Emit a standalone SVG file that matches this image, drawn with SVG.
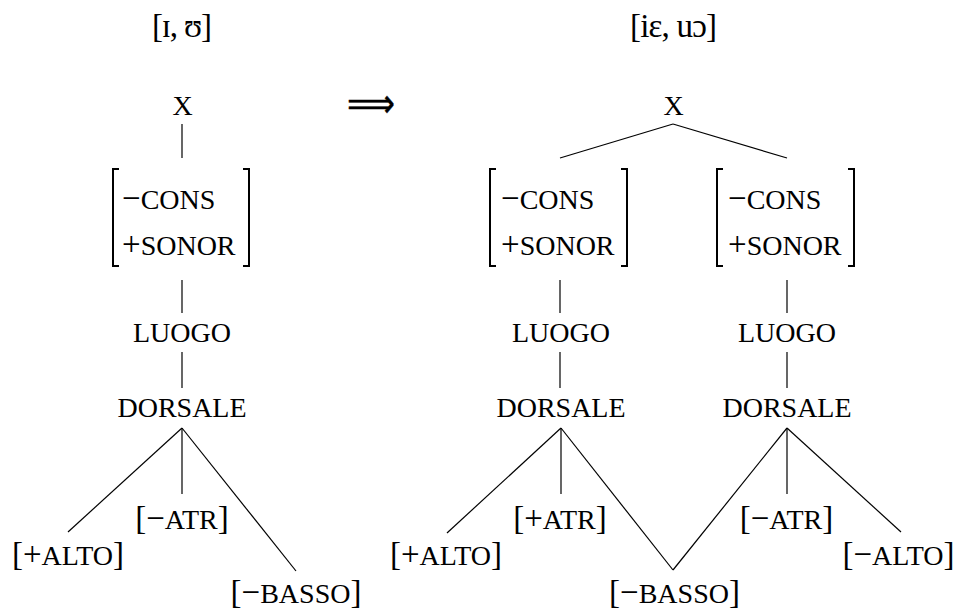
<svg xmlns="http://www.w3.org/2000/svg" width="957" height="613" viewBox="0 0 957 613">
<style>
.top{font-size:33px}
.lg{font-size:28px}
.br{font-size:33px}
.ln{stroke:#000;stroke-width:1.2;fill:none}
.bk{stroke:#000;stroke-width:2;fill:none}
</style>
<rect width="957" height="613" fill="#fff"/>
<g id="connectors">
  <line class="ln" x1="182" y1="124" x2="182" y2="158"/>
  <line class="ln" x1="182" y1="280" x2="182" y2="313"/>
  <line class="ln" x1="182" y1="352" x2="182" y2="388"/>
  <line class="ln" x1="182" y1="428" x2="68" y2="532"/>
  <line class="ln" x1="182" y1="428" x2="182" y2="494"/>
  <line class="ln" x1="182" y1="428" x2="296" y2="571"/>
  <line class="ln" x1="673" y1="124" x2="560" y2="158"/>
  <line class="ln" x1="673" y1="124" x2="787" y2="158"/>
  <line class="ln" x1="560" y1="280" x2="560" y2="313"/>
  <line class="ln" x1="560" y1="352" x2="560" y2="388"/>
  <line class="ln" x1="787" y1="280" x2="787" y2="313"/>
  <line class="ln" x1="787" y1="352" x2="787" y2="388"/>
  <line class="ln" x1="561" y1="428" x2="447" y2="533"/>
  <line class="ln" x1="561" y1="428" x2="561" y2="494"/>
  <line class="ln" x1="561" y1="428" x2="673" y2="570"/>
  <line class="ln" x1="787" y1="428" x2="673" y2="570"/>
  <line class="ln" x1="787" y1="428" x2="787" y2="494"/>
  <line class="ln" x1="787" y1="428" x2="901" y2="532"/>
</g>
<g id="nodes" font-family="Liberation Serif, serif" fill="#000">
<g id="label-left"><text class="top" x="182" y="37" text-anchor="middle" textLength="60" lengthAdjust="spacing">[ɪ, ʊ]</text></g>
<g id="label-right"><text class="top" x="673.5" y="37" text-anchor="middle" textLength="87" lengthAdjust="spacing">[iɛ, uɔ]</text></g>
<g id="implies"><text x="371" y="117" text-anchor="middle" font-family="DejaVu Sans, sans-serif" font-size="40" stroke="#000" stroke-width="0.4" textLength="48" lengthAdjust="spacingAndGlyphs">⟹</text></g>

<g id="L-X"><text class="lg" x="182.5" y="115" text-anchor="middle">X</text></g>
<g id="L-matrix">
  <path class="bk" d="M119,169 h-6 v97 h6 M243,169 h6 v97 h-6"/>
  <text x="122" y="209"><tspan class="br">−</tspan><tspan class="lg">CONS</tspan></text>
  <text x="122" y="255"><tspan class="br">+</tspan><tspan class="lg">SONOR</tspan></text>
</g>
<g id="L-luogo"><text class="lg" x="182" y="342" text-anchor="middle">LUOGO</text></g>
<g id="L-dorsale"><text class="lg" x="182" y="417" text-anchor="middle">DORSALE</text></g>
<g id="L-alto"><text x="68" y="565" text-anchor="middle"><tspan class="br">[+</tspan><tspan class="lg">ALTO</tspan><tspan class="br">]</tspan></text></g>
<g id="L-atr"><text x="182" y="529" text-anchor="middle"><tspan class="br">[−</tspan><tspan class="lg">ATR</tspan><tspan class="br">]</tspan></text></g>
<g id="L-basso"><text x="296" y="603" text-anchor="middle"><tspan class="br">[−</tspan><tspan class="lg">BASSO</tspan><tspan class="br">]</tspan></text></g>

<g id="R-X"><text class="lg" x="673.5" y="115" text-anchor="middle">X</text></g>
<g id="R-matrix1">
  <path class="bk" d="M496,169 h-6 v97 h6 M621,169 h6 v97 h-6"/>
  <text x="501" y="209"><tspan class="br">−</tspan><tspan class="lg">CONS</tspan></text>
  <text x="501" y="255"><tspan class="br">+</tspan><tspan class="lg">SONOR</tspan></text>
</g>
<g id="R-matrix2">
  <path class="bk" d="M723,169 h-6 v97 h6 M848,169 h6 v97 h-6"/>
  <text x="728" y="209"><tspan class="br">−</tspan><tspan class="lg">CONS</tspan></text>
  <text x="728" y="255"><tspan class="br">+</tspan><tspan class="lg">SONOR</tspan></text>
</g>
<g id="R-luogo1"><text class="lg" x="561" y="342" text-anchor="middle">LUOGO</text></g>
<g id="R-luogo2"><text class="lg" x="787" y="342" text-anchor="middle">LUOGO</text></g>
<g id="R-dorsale1"><text class="lg" x="561" y="417" text-anchor="middle">DORSALE</text></g>
<g id="R-dorsale2"><text class="lg" x="787" y="417" text-anchor="middle">DORSALE</text></g>
<g id="R-alto-plus"><text x="446" y="565" text-anchor="middle"><tspan class="br">[+</tspan><tspan class="lg">ALTO</tspan><tspan class="br">]</tspan></text></g>
<g id="R-atr-plus"><text x="560" y="529" text-anchor="middle"><tspan class="br">[+</tspan><tspan class="lg">ATR</tspan><tspan class="br">]</tspan></text></g>
<g id="R-basso"><text x="674.5" y="603" text-anchor="middle"><tspan class="br">[−</tspan><tspan class="lg">BASSO</tspan><tspan class="br">]</tspan></text></g>
<g id="R-atr-minus"><text x="786.5" y="529" text-anchor="middle"><tspan class="br">[−</tspan><tspan class="lg">ATR</tspan><tspan class="br">]</tspan></text></g>
<g id="R-alto-minus"><text x="898.5" y="565" text-anchor="middle"><tspan class="br">[−</tspan><tspan class="lg">ALTO</tspan><tspan class="br">]</tspan></text></g>
</g>
</svg>
